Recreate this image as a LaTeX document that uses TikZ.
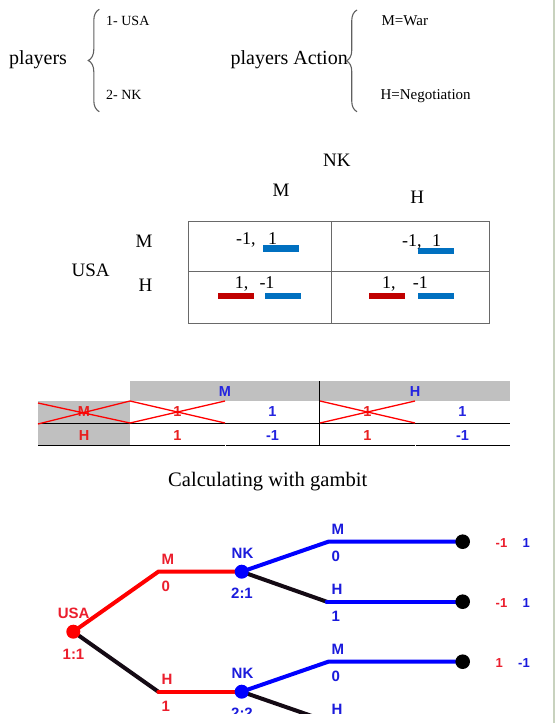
\documentclass[tikz,border=0pt]{standalone}
\usepackage{fontspec}
\setmainfont{Liberation Serif}
\newfontfamily\arialfont{Liberation Sans}
\usetikzlibrary{decorations.pathreplacing}

\definecolor{barblue}{RGB}{0,112,192}
\definecolor{barred}{RGB}{192,0,0}
\definecolor{gridgray}{RGB}{105,105,105}
\definecolor{bracegray}{RGB}{95,95,95}
\definecolor{hdrgray}{RGB}{192,192,192}
\definecolor{gbblue}{RGB}{36,36,224}
\definecolor{gbred}{RGB}{232,32,32}
\definecolor{treered}{RGB}{255,0,0}
\definecolor{treeblue}{RGB}{0,0,255}
\definecolor{lblred}{RGB}{235,30,45}
\definecolor{lblblue}{RGB}{26,26,220}
\definecolor{edgegreen}{RGB}{200,210,190}
\definecolor{treeblack}{RGB}{20,10,20}

\begin{document}
\begin{tikzpicture}[x=1pt,y=-1pt,
  txt/.style={inner sep=0pt, anchor=base west},
  bigtxt/.style={txt, font=\fontsize{20}{24}\selectfont},
  hdrtxt/.style={txt, font=\fontsize{19}{23}\selectfont},
  celltxt/.style={txt, font=\fontsize{18}{21}\selectfont},
  listtxt/.style={txt, font=\fontsize{14}{17}\selectfont},
  acttxt/.style={txt, font=\fontsize{15}{18}\selectfont},
  bracestyle/.style={bracegray, line width=1.1pt, decorate},
  gbtxt/.style={inner sep=0pt, anchor=base, font=\arialfont\bfseries\fontsize{14.5}{17}\selectfont},
  gbline/.style={black, line width=0.9pt},
  xline/.style={treered, line width=1.3pt},
  tlbl/.style={inner sep=0pt, font=\arialfont\bfseries\fontsize{15}{18}\selectfont},
  paytxt/.style={inner sep=0pt, font=\arialfont\bfseries\fontsize{13}{16}\selectfont},
  redbr/.style={treered, line width=4pt, line cap=round},
  bluebr/.style={treeblue, line width=4pt, line cap=round},
  blackbr/.style={treeblack, line width=4pt, line cap=round},
  dot/.style={circle, inner sep=0pt, minimum size=14pt}
]
\useasboundingbox (0,0) rectangle (557,723);

% right edge line
\draw[edgegreen, line width=2pt] (553.7,0) -- (553.7,723);

% ---------- top: players and actions ----------
\node[bigtxt] (players) at (9,64.3) {players};
\draw[bracestyle, decoration={brace, amplitude=11pt}] (99.3,111.7) -- (99.3,9.3);
\node[listtxt] (p1) at (106,25) {1- USA};
\node[listtxt] (p2) at (106,99.3) {2- NK};
\node[bigtxt] (pact) at (230.4,64.5) {players Action};
\draw[bracestyle, decoration={brace, amplitude=10.5pt}] (357,111.7) -- (357,10);
\node[acttxt] (a1) at (381.4,25) {M=War};
\node[acttxt] (a2) at (380.4,99.3) {H=Negotiation};

% ---------- payoff matrix ----------
\node[hdrtxt] (nkh) at (323,166) {NK};
\node[hdrtxt] (mh) at (272.5,196) {M};
\node[hdrtxt] (hh) at (410.2,203.3) {H};
\node[hdrtxt] (mrow) at (135.5,247) {M};
\node[hdrtxt] (hrow) at (138.5,291) {H};
\node[hdrtxt] (usarow) at (71.5,276) {USA};

\draw[gridgray, line width=1.2pt] (188.3,221.5) rectangle (489.7,323.5);
\draw[gridgray, line width=1.2pt] (331.7,221.5) -- (331.7,323.5);
\draw[gridgray, line width=1.2pt] (188.3,271.7) -- (489.7,271.7);

\fill[barblue] (263,245) rectangle (299,251.7);
\fill[barblue] (417.7,248.3) rectangle (454,254.3);
\fill[barred] (218,293.3) rectangle (254,299);
\fill[barblue] (265,293.3) rectangle (300.7,299);
\fill[barred] (369,293.3) rectangle (405,299);
\fill[barblue] (417.7,293.3) rectangle (454,299);

\node[celltxt] (c11a) at (236,244) {-1,};
\node[celltxt] (c11b) at (268,244) {1};
\node[celltxt] (c12a) at (402,246.5) {-1,};
\node[celltxt] (c12b) at (432,246.5) {1};
\node[celltxt] (c21a) at (234.7,288.3) {1,};
\node[celltxt] (c21b) at (259.3,288.3) {-1};
\node[celltxt] (c22a) at (382,288.3) {1,};
\node[celltxt] (c22b) at (412.6,288.3) {-1};

% ---------- gambit strategic table ----------
\fill[hdrgray] (130,381) rectangle (510,401);
\fill[hdrgray] (38,401) rectangle (130,445);
\draw[gbline] (38,423) -- (510,423);
\draw[gbline] (38,445) -- (224.5,445);
\draw[gbline] (225.5,445) -- (414.5,445);
\draw[gbline] (415.5,445) -- (510,445);
\draw[gbline] (319.3,381) -- (319.3,445);

\node[gbtxt, text=gbblue] (gm) at (225,396.7) {M};
\node[gbtxt, text=gbblue] (gh) at (415,396.7) {H};
\node[gbtxt, text=gbred] (gr1) at (84,416.7) {M};
\node[gbtxt, text=gbred] (g11) at (177.5,416.7) {1};
\node[gbtxt, text=gbblue] (g12) at (272.5,416.7) {1};
\node[gbtxt, text=gbred] (g13) at (367.5,416.7) {1};
\node[gbtxt, text=gbblue] (g14) at (462.5,416.7) {1};
\node[gbtxt, text=gbred] (gr2) at (84,440) {H};
\node[gbtxt, text=gbred] (g21) at (177.5,440) {1};
\node[gbtxt, text=gbblue] (g22) at (272.5,440) {-1};
\node[gbtxt, text=gbred] (g23) at (367.5,440) {1};
\node[gbtxt, text=gbblue] (g24) at (462.5,440) {-1};

\draw[xline] (38,403) -- (130,423) (38,424) -- (130,401);
\draw[xline] (130,401) -- (225,423) (130,423) -- (225,401);
\draw[xline] (320,401) -- (415,423) (320,423) -- (415,401);

% ---------- caption ----------
\node[txt, font=\fontsize{20.6}{24}\selectfont] (calc) at (168,486) {Calculating with gambit};

% ---------- gambit extensive tree ----------
\begin{scope}
\clip (0,0) rectangle (557,713.5);
\coordinate (usa) at (73.3,631.7);
\coordinate (cM1) at (158.3,571.7);
\coordinate (cH1) at (158.3,691.7);
\coordinate (nk1) at (241.7,571.7);
\coordinate (nk2) at (241.7,691.7);
\coordinate (cM2) at (328.3,541.7);
\coordinate (cH2) at (326.7,601.7);
\coordinate (cM3) at (328.3,661.7);
\coordinate (cH3) at (328.3,721.7);
\coordinate (lf1) at (462.7,541.7);
\coordinate (lf2) at (462.7,601.7);
\coordinate (lf3) at (462.7,661.7);

\draw[blackbr] (usa) -- (cH1);
\draw[redbr] (cH1) -- (nk2);
\draw[redbr] (usa) -- (cM1) -- (nk1);
\draw[blackbr] (nk1) -- (cH2);
\draw[bluebr] (cH2) -- (lf2);
\draw[bluebr] (nk1) -- (cM2) -- (lf1);
\draw[blackbr] (nk2) -- (cH3);
\draw[bluebr] (nk2) -- (cM3) -- (lf3);

\node[dot, fill=treered] (usaD) at (usa) {};
\node[dot, fill=treeblue] (nk1D) at (nk1) {};
\node[dot, fill=treeblue] (nk2D) at (nk2) {};
\node[dot, fill=black, minimum size=14.6pt] (lf1D) at (lf1) {};
\node[dot, fill=black, minimum size=14.6pt] (lf2D) at (lf2) {};
\node[dot, fill=black, minimum size=14.6pt] (lf3D) at (lf3) {};

\node[tlbl, text=lblred, anchor=base] (usaL) at (73.7,618.3) {USA};
\node[tlbl, text=lblred, anchor=base] (usaP) at (73.5,659) {1:1};
\node[tlbl, text=lblblue, anchor=base] (nk1L) at (242.5,558.3) {NK};
\node[tlbl, text=lblblue, anchor=base] (nk1P) at (242,598.3) {2:1};
\node[tlbl, text=lblblue, anchor=base] (nk2L) at (242.5,678.3) {NK};
\node[tlbl, text=lblblue, anchor=base] (nk2P) at (242,718.3) {2:2};

\node[tlbl, text=lblred, anchor=base west] (m1L) at (161.5,564.5) {M};
\node[tlbl, text=lblred, anchor=base west] (m1P) at (161.5,591.3) {0};
\node[tlbl, text=lblred, anchor=base west] (h1L) at (161.5,684.5) {H};
\node[tlbl, text=lblred, anchor=base west] (h1P) at (161.5,711.3) {1};
\node[tlbl, text=lblblue, anchor=base west] (m2L) at (331.5,534.7) {M};
\node[tlbl, text=lblblue, anchor=base west] (m2P) at (331.5,561.5) {0};
\node[tlbl, text=lblblue, anchor=base west] (h2L) at (331.5,594.7) {H};
\node[tlbl, text=lblblue, anchor=base west] (h2P) at (331.5,621.5) {1};
\node[tlbl, text=lblblue, anchor=base west] (m3L) at (331.5,654.7) {M};
\node[tlbl, text=lblblue, anchor=base west] (m3P) at (331.5,681.5) {0};
\node[tlbl, text=lblblue, anchor=base west] (h3L) at (331.5,714.7) {H};

\node[paytxt, text=lblred, anchor=base west] (pay1a) at (495.5,547.5) {-1};
\node[paytxt, text=lblblue, anchor=base east] (pay1b) at (530,547.5) {1};
\node[paytxt, text=lblred, anchor=base west] (pay2a) at (495.5,607.5) {-1};
\node[paytxt, text=lblblue, anchor=base east] (pay2b) at (530,607.5) {1};
\node[paytxt, text=lblred, anchor=base west] (pay3a) at (495.5,667.5) {1};
\node[paytxt, text=lblblue, anchor=base east] (pay3b) at (530,667.5) {-1};
\end{scope}
\end{tikzpicture}
\end{document}
